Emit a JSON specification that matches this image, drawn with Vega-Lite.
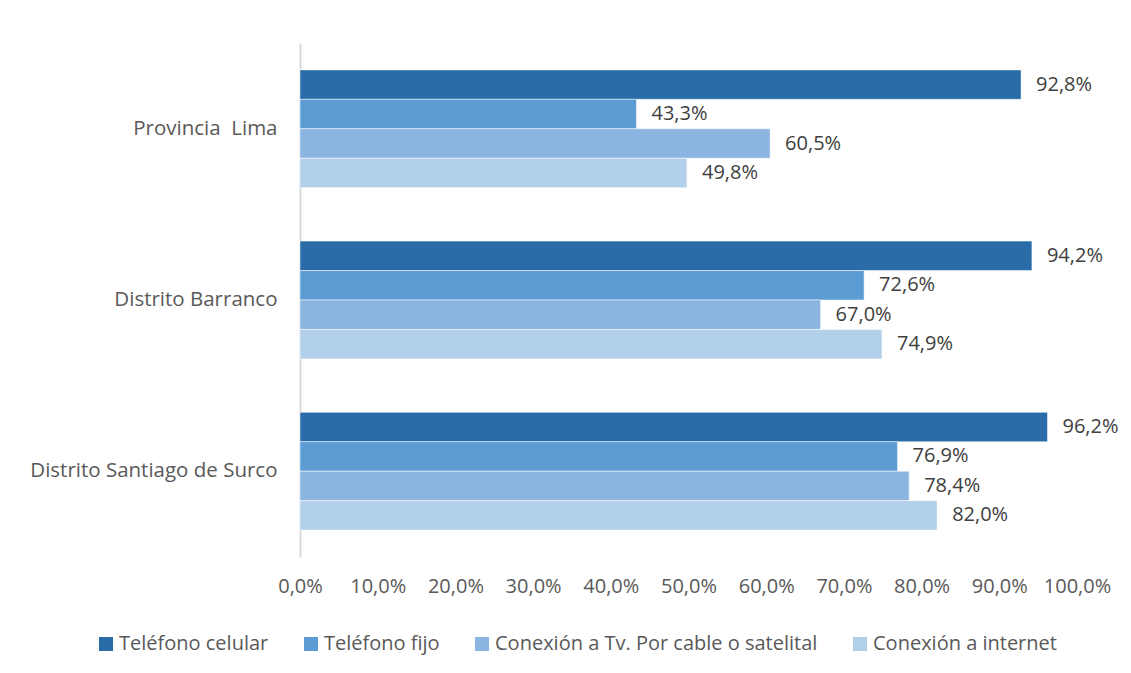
{
  "$schema": "https://vega.github.io/schema/vega-lite/v6.json",
  "autosize": "none",
  "width": 777,
  "height": 514,
  "padding": {"left": 300, "top": 43, "right": 54, "bottom": 116},
  "background": "white",
  "data": {
    "values": [
      {"zona": "Provincia\u00a0 Lima", "serie": "Teléfono celular", "valor": 0.928},
      {"zona": "Provincia\u00a0 Lima", "serie": "Teléfono fijo", "valor": 0.433},
      {"zona": "Provincia\u00a0 Lima", "serie": "Conexión a Tv. Por cable o satelital", "valor": 0.605},
      {"zona": "Provincia\u00a0 Lima", "serie": "Conexión a internet", "valor": 0.498},
      {"zona": "Distrito Barranco", "serie": "Teléfono celular", "valor": 0.942},
      {"zona": "Distrito Barranco", "serie": "Teléfono fijo", "valor": 0.726},
      {"zona": "Distrito Barranco", "serie": "Conexión a Tv. Por cable o satelital", "valor": 0.670},
      {"zona": "Distrito Barranco", "serie": "Conexión a internet", "valor": 0.749},
      {"zona": "Distrito Santiago de Surco", "serie": "Teléfono celular", "valor": 0.962},
      {"zona": "Distrito Santiago de Surco", "serie": "Teléfono fijo", "valor": 0.769},
      {"zona": "Distrito Santiago de Surco", "serie": "Conexión a Tv. Por cable o satelital", "valor": 0.784},
      {"zona": "Distrito Santiago de Surco", "serie": "Conexión a internet", "valor": 0.820}
    ]
  },
  "encoding": {
    "y": {
      "field": "zona", "type": "nominal",
      "sort": ["Provincia\u00a0 Lima", "Distrito Barranco", "Distrito Santiago de Surco"],
      "scale": {"paddingInner": 0.312, "paddingOuter": 0.157},
      "axis": {"title": null, "ticks": false, "domainColor": "#d9d9d9", "domainWidth": 2, "labelPadding": 23, "labelFontSize": 20.5, "labelColor": "#595959", "labelFont": "Open Sans", "labelLimit": 400, "grid": false}
    },
    "yOffset": {
      "field": "serie", "type": "nominal",
      "sort": ["Teléfono celular", "Teléfono fijo", "Conexión a Tv. Por cable o satelital", "Conexión a internet"],
      "scale": {"paddingInner": 0, "paddingOuter": 0}
    },
    "x": {
      "field": "valor", "type": "quantitative",
      "scale": {"domain": [0, 1], "nice": false},
      "axis": {"title": null, "format": ".1%", "values": [0, 0.1, 0.2, 0.3, 0.4, 0.5, 0.6, 0.7, 0.8, 0.9, 1.0], "grid": false, "domain": false, "ticks": false, "labelPadding": 19, "labelFontSize": 20, "labelColor": "#595959", "labelFont": "Open Sans", "labelFlush": false}
    }
  },
  "layer": [
    {
      "mark": {"type": "bar", "stroke": "white", "strokeWidth": 0.5},
      "encoding": {
        "color": {
          "field": "serie", "type": "nominal",
          "sort": ["Teléfono celular", "Teléfono fijo", "Conexión a Tv. Por cable o satelital", "Conexión a internet"],
          "scale": {
            "domain": ["Teléfono celular", "Teléfono fijo", "Conexión a Tv. Por cable o satelital", "Conexión a internet"],
            "range": ["#2a6ca8", "#5d9bd5", "#8bb5e0", "#b3d0eb"]
          },
          "legend": {
            "title": null, "orient": "none", "direction": "horizontal",
            "legendX": -204, "legendY": 591,
            "symbolType": "square", "symbolSize": 196, "symbolStrokeWidth": 0,
            "labelFontSize": 20, "labelColor": "#595959", "labelFont": "Open Sans",
            "labelOffset": 3, "columnPadding": 32, "labelLimit": 500
          }
        }
      }
    },
    {
      "mark": {"type": "text", "align": "left", "baseline": "middle", "dx": 15, "fontSize": 20, "color": "#404040", "font": "Open Sans"},
      "encoding": {
        "text": {"field": "valor", "type": "quantitative", "format": ".1%"}
      }
    }
  ],
  "config": {
    "locale": {"number": {"decimal": ",", "thousands": ".", "grouping": [3], "currency": ["", " €"]}},
    "view": {"stroke": null}
  }
}
